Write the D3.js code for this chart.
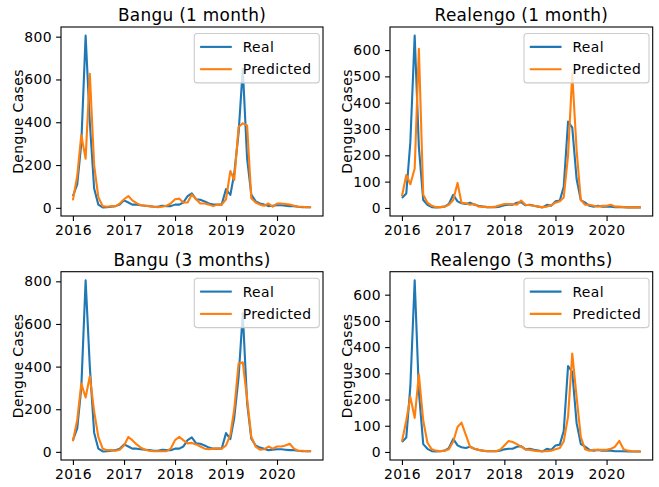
<!DOCTYPE html>
<html><head><meta charset="utf-8">
<script src="https://cdn.jsdelivr.net/npm/d3@7"></script>
<style>body{margin:0;background:#fff} svg{display:block} text{font-family:"DejaVu Sans",sans-serif;fill:#000}</style>
</head><body><svg id="c" width="659" height="487"></svg>
<script>
const months = ["2016-01","2016-02","2016-03","2016-04","2016-05","2016-06","2016-07","2016-08","2016-09","2016-10","2016-11","2016-12",
"2017-01","2017-02","2017-03","2017-04","2017-05","2017-06","2017-07","2017-08","2017-09","2017-10","2017-11","2017-12",
"2018-01","2018-02","2018-03","2018-04","2018-05","2018-06","2018-07","2018-08","2018-09","2018-10","2018-11","2018-12",
"2019-01","2019-02","2019-03","2019-04","2019-05","2019-06","2019-07","2019-08","2019-09","2019-10","2019-11","2019-12",
"2020-01","2020-02","2020-03","2020-04","2020-05","2020-06","2020-07","2020-08","2020-09"];

const banguReal = [55,110,300,805,400,90,15,2,3,5,8,15,
35,25,15,15,12,10,8,5,5,10,8,8,
15,15,25,55,68,40,38,30,20,15,15,15,
88,60,160,350,650,230,62,30,20,15,8,10,
12,12,10,8,8,5,3,3,3];
const bangu1Pred = [35,150,340,230,627,200,50,8,5,8,8,20,
40,55,35,22,12,10,8,5,3,5,10,20,
40,43,25,25,62,40,20,20,15,8,15,15,
40,172,130,378,395,385,45,25,15,10,20,5,
20,20,18,15,10,5,5,3,3];
const bangu3Pred = [50,150,320,255,355,190,70,15,8,8,5,10,
30,70,55,35,20,10,5,3,3,3,3,15,
55,70,55,40,42,35,25,15,12,15,15,15,
30,80,200,415,420,250,70,25,10,12,25,15,
25,25,30,38,15,5,5,3,3];
const realengoReal = [38,55,250,655,230,30,12,3,2,3,5,15,
50,25,18,15,20,12,8,5,3,3,3,5,
10,12,12,20,22,10,12,8,5,2,12,8,
25,28,80,328,305,110,30,20,8,5,8,5,
5,5,3,3,3,2,2,2,2];
const realengo1Pred = [45,125,90,150,605,50,20,8,3,3,5,12,
30,95,20,18,12,15,5,5,3,3,5,10,
15,15,15,12,28,12,10,8,5,3,5,10,
20,25,40,200,510,220,30,12,12,8,5,8,
8,12,5,5,3,2,2,2,2];
const realengo3Pred = [40,120,210,130,295,120,35,10,5,3,5,10,
40,95,112,65,20,12,8,5,3,3,3,8,
25,42,38,30,20,10,8,5,3,3,3,5,
10,15,40,135,375,210,57,10,5,8,8,8,
8,12,20,42,10,5,3,2,2];

const yearTicks = ["2016","2017","2018","2019","2020"];
const banguYTicks = [0,200,400,600,800];
const realengoYTicks = [0,100,200,300,400,500,600];
const titles = ["Bangu (1 month)","Realengo (1 month)","Bangu (3 months)","Realengo (3 months)"];
const legendLabels = ["Real","Predicted"];
const colors = ["#1f77b4","#ff7f0e"];
const yLabel = "Dengue Cases";

const parseM = d3.timeParse("%Y-%m");
const parseY = d3.timeParse("%Y");
const dates = months.map(parseM);

const panels = [
  {title:titles[0], real:banguReal, pred:bangu1Pred, yt:banguYTicks, l:61, r:323, t:27, b:216, ylx:23, tty:21},
  {title:titles[1], real:realengoReal, pred:realengo1Pred, yt:realengoYTicks, l:390, r:652.7, t:27, b:216, ylx:352, tty:21},
  {title:titles[2], real:banguReal, pred:bangu3Pred, yt:banguYTicks, l:61, r:323, t:271.7, b:460, ylx:23, tty:266},
  {title:titles[3], real:realengoReal, pred:realengo3Pred, yt:realengoYTicks, l:390, r:652.7, t:271.7, b:460, ylx:352, tty:266}
];

const svg = d3.select("#c");
const FS = 13.9;
const LS = 0.4;

panels.forEach(p => {
  const g = svg.append("g");
  const t0 = dates[0].getTime(), t1 = dates[dates.length-1].getTime();
  const pad = (t1 - t0) * 0.05;
  const x = d3.scaleTime().domain([new Date(t0 - pad), new Date(t1 + pad)]).range([p.l, p.r]);
  const all = p.real.concat(p.pred);
  const mn = d3.min(all), mx = d3.max(all);
  const yp = (mx - mn) * 0.05;
  const y = d3.scaleLinear().domain([mn - yp, mx + yp]).range([p.b, p.t]);

  const xa = g.append("g").attr("transform", `translate(0,${p.b})`)
    .call(d3.axisBottom(x).tickValues(yearTicks.map(parseY)).tickFormat(d3.timeFormat("%Y")).tickSize(4.9).tickPadding(4.2));
  const ya = g.append("g").attr("transform", `translate(${p.l},0)`)
    .call(d3.axisLeft(y).tickValues(p.yt).tickSize(4.9).tickPadding(4.2));
  [xa, ya].forEach(a => {
    a.select(".domain").remove();
    a.selectAll("line").attr("stroke", "#000").attr("stroke-width", 1.1);
    a.selectAll("text").attr("font-size", FS).attr("font-family", "DejaVu Sans").attr("fill", "#000")
      .attr("letter-spacing", LS);
  });

  const line = arr => d3.line().x((d, i) => x(dates[i])).y(d => y(d))(arr);
  g.append("path").attr("d", line(p.real)).attr("fill", "none").attr("stroke", colors[0]).attr("stroke-width", 2.1).attr("stroke-linejoin", "round");
  g.append("path").attr("d", line(p.pred)).attr("fill", "none").attr("stroke", colors[1]).attr("stroke-width", 2.1).attr("stroke-linejoin", "round");

  g.append("rect").attr("x", p.l).attr("y", p.t).attr("width", p.r - p.l).attr("height", p.b - p.t)
    .attr("fill", "none").attr("stroke", "#000").attr("stroke-width", 1.1);

  g.append("text").attr("x", (p.l + p.r) / 2).attr("y", p.tty).attr("text-anchor", "middle")
    .attr("font-size", 16.9).attr("letter-spacing", 0.3).text(p.title);

  g.append("text").attr("transform", `translate(${p.ylx},${(p.t + p.b) / 2}) rotate(-90)`)
    .attr("text-anchor", "middle").attr("font-size", FS).attr("letter-spacing", LS).text(yLabel);

  const lw = 125, lh = 49.4;
  const lx = p.r - 3.7 - lw, ly = p.t + 6.5;
  const lg = g.append("g");
  lg.append("rect").attr("x", lx).attr("y", ly).attr("width", lw).attr("height", lh).attr("rx", 3).attr("ry", 3)
    .attr("fill", "#fff").attr("fill-opacity", 0.8).attr("stroke", "#cccccc").attr("stroke-width", 1.1);
  legendLabels.forEach((lab, i) => {
    const cy = ly + 13.4 + i * 22.3;
    lg.append("line").attr("x1", lx + 5.8).attr("x2", lx + 37.5).attr("y1", cy).attr("y2", cy)
      .attr("stroke", colors[i]).attr("stroke-width", 2.1);
    lg.append("text").attr("x", lx + 48.4).attr("y", cy + 5.1).attr("font-size", FS).attr("letter-spacing", LS).text(lab);
  });
});
</script></body></html>
